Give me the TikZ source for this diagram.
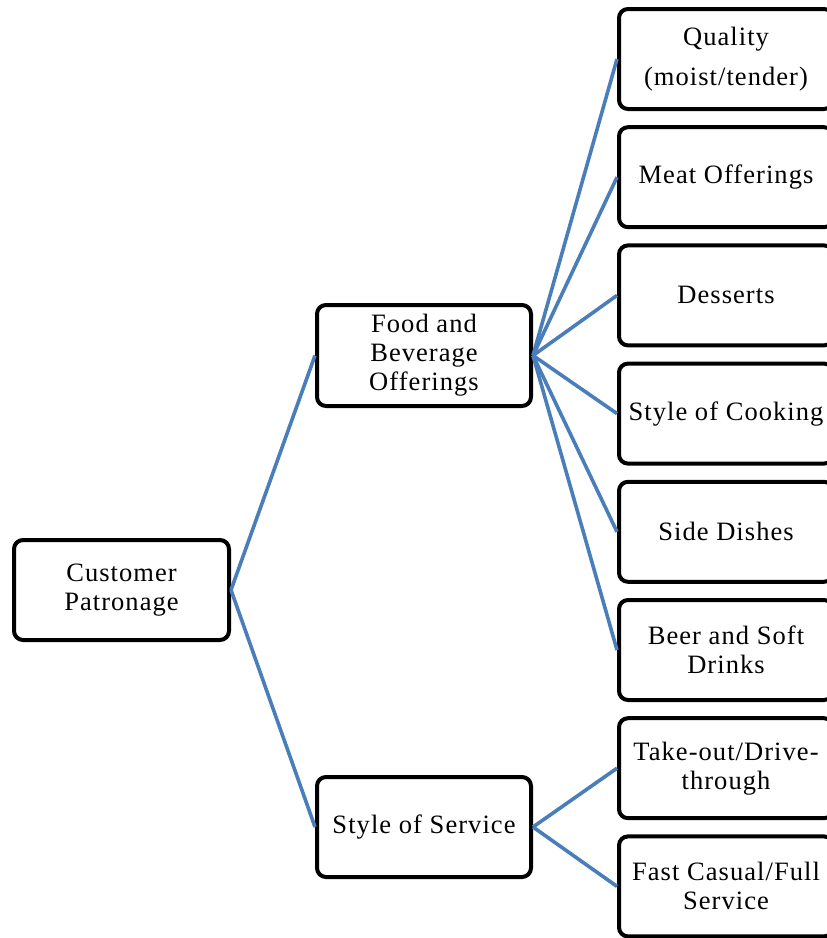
\documentclass[tikz,border=0pt]{standalone}
\usepackage{fontspec}
\setmainfont{Liberation Serif}[LetterSpace=4]
\definecolor{linkblue}{HTML}{4A7EBB}
\begin{document}
\begin{tikzpicture}[x=1pt,y=-1pt,
  box/.style={draw=black, line width=4pt, rounded corners=9pt, fill=white,
    minimum width=214pt, minimum height=100pt, inner sep=0pt, align=center,
    font=\fontsize{26.5}{29}\selectfont},
  link/.style={draw=linkblue, line width=3.6pt}]
\useasboundingbox (0,0) rectangle (827,938);
\clip (0,0) rectangle (827,938);
% level 0
\node[box, minimum width=215pt] (cp) at (121.5,590) {Customer\\Patronage};
% level 1
\node[box, minimum height=101pt] (fb) at (424,355.5) {Food and\\Beverage\\Offerings};
\node[box] (ss) at (424,827) {Style of Service};
% level 2
\node[box] (q)  at (726,59)    {Quality\\[11pt](moist/tender)};
\node[box] (mo) at (726,177.2) {Meat Offerings};
\node[box] (de) at (726,295.4) {Desserts};
\node[box] (sc) at (726,413.6) {Style of Cooking};
\node[box] (sd) at (726,531.8) {Side Dishes};
\node[box] (bs) at (726,650)   {Beer and Soft\\Drinks};
\node[box] (to) at (726,768.2) {Take-out/Drive-\\through};
\node[box] (fc) at (726,886.4) {Fast Casual/Full\\Service};
% connectors
\draw[link] (cp.east) -- (fb.west);
\draw[link] (cp.east) -- (ss.west);
\foreach \c in {q,mo,de,sc,sd,bs} \draw[link] (fb.east) -- (\c.west);
\draw[link] (ss.east) -- (to.west);
\draw[link] (ss.east) -- (fc.west);
\end{tikzpicture}
\end{document}
